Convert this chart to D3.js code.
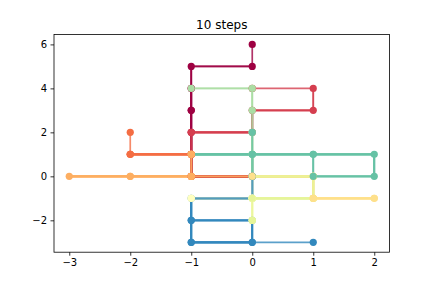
<!DOCTYPE html>
<html>
<head>
<meta charset="utf-8">
<script src="https://cdn.jsdelivr.net/npm/d3@7"></script>
<style>
  html, body { margin: 0; padding: 0; background: #fff; }
  svg { display: block; }
  text { font-family: "DejaVu Sans", sans-serif; fill: #000; }
</style>
</head>
<body>
<script>
// Ten lattice walkers, each starting at the origin and taking 10 unit steps.
const walkX = [
  [0, -1, -1, -1, -1, -1, -1, -1, -1, 0, 0],
  [0, -1, -1, -1, -1, -1, 0, 0, 1, 1, 0],
  [0, -1, -1, -2, -1, -1, -1, -2, -1, -2, -2],
  [0, -1, -2, -3, -2, -1, -1, -1, -1, -1, -1],
  [0, 1, 1, 2, 1, 1, 0, 1, 1, 2, 1],
  [0, 0, -1, 0, 0, 0, -1, 0, 0, 0, -1],
  [0, 1, 1, 0, 1, 1, 1, 0, 0, 0, 0],
  [0, 0, 0, 0, 0, 0, 0, 0, 0, -1, 0],
  [0, 0, -1, 0, 1, 2, 2, 1, 1, 0, 0],
  [0, 0, -1, -1, -1, 0, 0, -1, -1, 0, 1]
];
const walkY = [
  [0, 0, 1, 2, 3, 4, 3, 4, 5, 5, 6],
  [0, 0, 1, 2, 1, 2, 2, 3, 3, 4, 4],
  [0, 0, 1, 1, 1, 0, 1, 1, 1, 1, 2],
  [0, 0, 0, 0, 0, 0, 1, 0, 1, 0, 1],
  [0, 0, -1, -1, -1, 0, 0, 0, -1, -1, -1],
  [0, -1, -1, -1, -2, -1, -1, -1, -2, -1, -1],
  [0, 0, -1, -1, -1, 0, -1, -1, -2, -1, -2],
  [0, 1, 2, 1, 2, 3, 2, 3, 4, 4, 4],
  [0, 1, 1, 1, 1, 1, 0, 0, 1, 1, 2],
  [0, -1, -1, -2, -3, -3, -2, -2, -3, -3, -3]
];
const nSteps = 10;
const tickX = [-3, -2, -1, 0, 1, 2];
const tickY = [-2, 0, 2, 4, 6];
const titleText = nSteps + " steps";

const W = 432, H = 288;
const plot = { left: 54, right: 389.5, top: 34.5, bottom: 252.2 };
const lineAlpha = 0.8;

const svg = d3.select("body").append("svg")
  .attr("width", W).attr("height", H);

// data limits with 5% margins
const allX = walkX.flat(), allY = walkY.flat();
const [x0, x1] = d3.extent(allX), [y0, y1] = d3.extent(allY);
const px = (x1 - x0) * 0.05, py = (y1 - y0) * 0.05;
const x = d3.scaleLinear().domain([x0 - px, x1 + px]).range([plot.left, plot.right]);
const y = d3.scaleLinear().domain([y0 - py, y1 + py]).range([plot.bottom, plot.top]);

const color = d3.scaleOrdinal()
  .domain(d3.range(walkX.length))
  .range(d3.schemeSpectral[11].slice(0, walkX.length));

const walkers = walkX.map((xs, i) => xs.map((v, k) => [v, walkY[i][k]]));

const line = d3.line().x(d => x(d[0])).y(d => y(d[1]));

const gLines = svg.append("g");
// the path of every walker is redrawn after every step, so older
// segments build up opacity while the newest one stays lighter
for (let t = 1; t <= nSteps; t++) {
  walkers.forEach((pts, i) => {
    gLines.append("path")
      .attr("d", line(pts.slice(0, t + 1)))
      .attr("fill", "none")
      .attr("stroke", color(i))
      .attr("stroke-opacity", lineAlpha)
      .attr("stroke-width", 1.7)
      .attr("stroke-linejoin", "round")
      .attr("stroke-linecap", "square");
  });
}

// current position of every walker at every step
const gDots = svg.append("g");
for (let t = 0; t <= nSteps; t++) {
  walkers.forEach((pts, i) => {
    gDots.append("circle")
      .attr("cx", x(pts[t][0]))
      .attr("cy", y(pts[t][1]))
      .attr("r", 3.6)
      .attr("fill", color(i));
  });
}

// axes
const fmt = d => d < 0 ? "\u2212" + Math.abs(d) : String(d);
const xAxis = svg.append("g")
  .attr("transform", `translate(0,${plot.bottom})`)
  .call(d3.axisBottom(x).tickValues(tickX).tickFormat(fmt).tickSize(3.5).tickPadding(3.5));
const yAxis = svg.append("g")
  .attr("transform", `translate(${plot.left},0)`)
  .call(d3.axisLeft(y).tickValues(tickY).tickFormat(fmt).tickSize(3.5).tickPadding(3.5));
[xAxis, yAxis].forEach(g => {
  g.select(".domain").remove();
  g.selectAll(".tick line").attr("stroke", "#000").attr("stroke-width", 0.8);
  g.selectAll(".tick text").attr("font-size", 10).attr("fill", "#000")
    .style("font-family", "'DejaVu Sans', sans-serif");
});

svg.append("rect")
  .attr("x", plot.left).attr("y", plot.top)
  .attr("width", plot.right - plot.left).attr("height", plot.bottom - plot.top)
  .attr("fill", "none").attr("stroke", "#000").attr("stroke-width", 0.8);

svg.append("text")
  .attr("x", (plot.left + plot.right) / 2)
  .attr("y", plot.top - 6)
  .attr("text-anchor", "middle")
  .attr("font-size", 12)
  .text(titleText);
</script>
</body>
</html>
